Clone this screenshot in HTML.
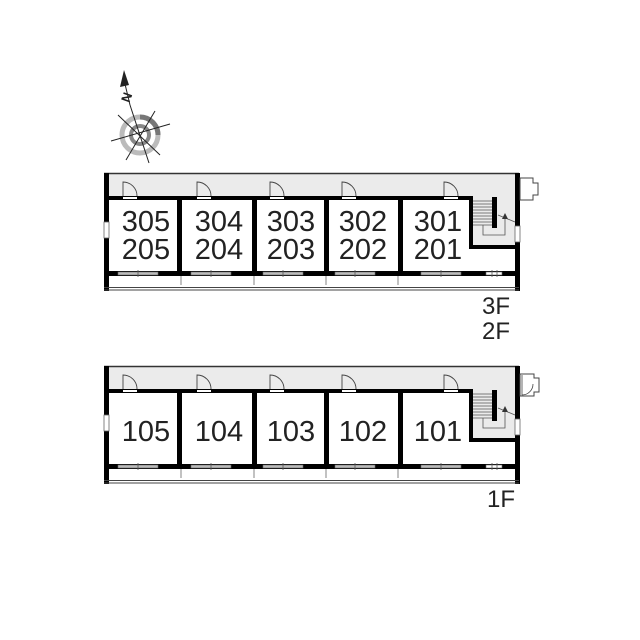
<!DOCTYPE html>
<html><head><meta charset="utf-8"><style>
html,body{margin:0;padding:0;background:#fff;width:640px;height:640px;overflow:hidden}
svg{display:block}
text{font-family:"Liberation Sans",sans-serif;fill:#222}
</style></head><body>
<svg width="640" height="640" viewBox="0 0 640 640" xmlns="http://www.w3.org/2000/svg">
<defs>
<g id="blk">
  <rect x="108" y="174" width="409" height="24" fill="#ebebeb"/>
  <rect x="472" y="198" width="45" height="50" fill="#ebebeb"/>
  <line x1="104" y1="173.5" x2="519" y2="173.5" stroke="#333" stroke-width="1.5"/>
  <rect x="104" y="173" width="5" height="118" fill="#000"/>
  <rect x="104" y="222" width="5" height="16" fill="#fff" stroke="#666" stroke-width="0.8"/>
  <rect x="515" y="173" width="5" height="118" fill="#000"/>
  <rect x="515" y="226" width="5" height="16" fill="#fff" stroke="#666" stroke-width="0.8"/>
  <rect x="108" y="196" width="365" height="4" fill="#000"/>
  <rect x="469" y="196" width="4" height="53" fill="#000"/>
  <rect x="469" y="245" width="50" height="4" fill="#000"/>
  <g stroke="#555" stroke-width="0.8">
    <line x1="473" y1="201" x2="495" y2="201"/><line x1="473" y1="204" x2="495" y2="204"/>
    <line x1="473" y1="207" x2="495" y2="207"/><line x1="473" y1="210" x2="495" y2="210"/>
    <line x1="473" y1="213" x2="495" y2="213"/><line x1="473" y1="216" x2="495" y2="216"/>
    <line x1="473" y1="219" x2="495" y2="219"/><line x1="473" y1="222" x2="495" y2="222"/>
    <line x1="473" y1="225" x2="495" y2="225"/>
    <polyline points="483,225 483,235 505,235 505,219" fill="none"/>
    <line x1="498" y1="215" x2="515" y2="222"/>
  </g>
  <rect x="492" y="197" width="5" height="31" fill="#000"/>
  <polygon points="505,213 502,219 508,219" fill="#333"/>
  <rect x="108" y="271" width="411" height="5" fill="#000"/>
  <rect x="177" y="196" width="5" height="80" fill="#000"/>
  <rect x="252" y="196" width="5" height="80" fill="#000"/>
  <rect x="324" y="196" width="5" height="80" fill="#000"/>
  <rect x="398" y="196" width="5" height="80" fill="#000"/>
  <g fill="#bbb" stroke="#666" stroke-width="0.6">
    <rect x="118" y="272" width="40" height="3"/>
    <rect x="191" y="272" width="40" height="3"/>
    <rect x="263" y="272" width="40" height="3"/>
    <rect x="335" y="272" width="40" height="3"/>
    <rect x="421" y="272" width="40" height="3"/>
    <rect x="486" y="272" width="16" height="3" fill="#fff"/>
  </g>
  <g stroke="#555" stroke-width="0.8">
    <line x1="138" y1="270" x2="138" y2="277"/><line x1="211" y1="270" x2="211" y2="277"/>
    <line x1="283" y1="270" x2="283" y2="277"/><line x1="355" y1="270" x2="355" y2="277"/>
    <line x1="441" y1="270" x2="441" y2="277"/><line x1="492" y1="270" x2="492" y2="277"/>
    <line x1="497" y1="270" x2="497" y2="277"/>
  </g>
  <g stroke="#666" stroke-width="0.8">
    <line x1="181" y1="276" x2="181" y2="285"/><line x1="254" y1="276" x2="254" y2="285"/>
    <line x1="326" y1="276" x2="326" y2="285"/><line x1="398" y1="276" x2="398" y2="285"/>
  </g>
  <line x1="104" y1="287.5" x2="519" y2="287.5" stroke="#444" stroke-width="1"/>
  <line x1="104" y1="290" x2="519" y2="290" stroke="#444" stroke-width="1"/>
  <g fill="none" stroke="#444" stroke-width="0.9">
    <path d="M123,196 V182 A14,14 0 0 1 137,196"/>
    <path d="M197,196 V182 A14,14 0 0 1 211,196"/>
    <path d="M270,196 V182 A14,14 0 0 1 284,196"/>
    <path d="M342,196 V182 A14,14 0 0 1 356,196"/>
    <path d="M444,196 V182 A14,14 0 0 1 458,196"/>
  </g>
  <g fill="#fff">
    <rect x="123" y="197" width="14" height="2"/><rect x="197" y="197" width="14" height="2"/>
    <rect x="270" y="197" width="14" height="2"/><rect x="342" y="197" width="14" height="2"/>
    <rect x="444" y="197" width="14" height="2"/>
  </g>
</g>
</defs>
<g stroke="#222" stroke-width="1">
  <circle cx="140" cy="135" r="18" fill="none" stroke="#bbb" stroke-width="5"/>
  <path d="M140,117 A18,18 0 0 1 158,135" fill="none" stroke="#777" stroke-width="5"/>
  <circle cx="140" cy="135" r="9" fill="none" stroke="#888" stroke-width="4"/>
  <line x1="130" y1="105" x2="149" y2="163"/>
  <line x1="111" y1="141" x2="170" y2="124"/>
  <line x1="118" y1="115" x2="160" y2="155"/>
  <line x1="126" y1="160" x2="155" y2="111"/>
</g>
<polygon points="124,70 120,87 129,85" fill="#222"/>
<line x1="125" y1="84" x2="130" y2="105" stroke="#222" stroke-width="1"/>
<text x="120" y="100" font-size="13" font-weight="bold" transform="rotate(-70 127 95)">N</text>
<use href="#blk"/>
<path d="M520,178 H533 V183 H538 V195 H533 V200 H520 Z" fill="#fff" stroke="#444" stroke-width="1"/>
<use href="#blk" transform="translate(0,193)"/>
<path d="M520,374 H534 V378 H539 V392 H534 V396 H520 Z" fill="#fff" stroke="#444" stroke-width="1"/>
<path d="M522,375 V395 A11,11 0 0 0 533,384" fill="none" stroke="#444" stroke-width="0.8"/>
<g font-size="29" text-anchor="middle">
  <text x="146" y="231">305</text><text x="146" y="259">205</text>
  <text x="219" y="231">304</text><text x="219" y="259">204</text>
  <text x="291" y="231">303</text><text x="291" y="259">203</text>
  <text x="363" y="231">302</text><text x="363" y="259">202</text>
  <text x="438" y="231">301</text><text x="438" y="259">201</text>
  <text x="146" y="441">105</text><text x="219" y="441">104</text>
  <text x="291" y="441">103</text><text x="363" y="441">102</text>
  <text x="438" y="441">101</text>
</g>
<g font-size="24">
  <text x="482" y="314">3F</text>
  <text x="482" y="339">2F</text>
  <text x="487" y="507">1F</text>
</g>
</svg>
</body></html>
